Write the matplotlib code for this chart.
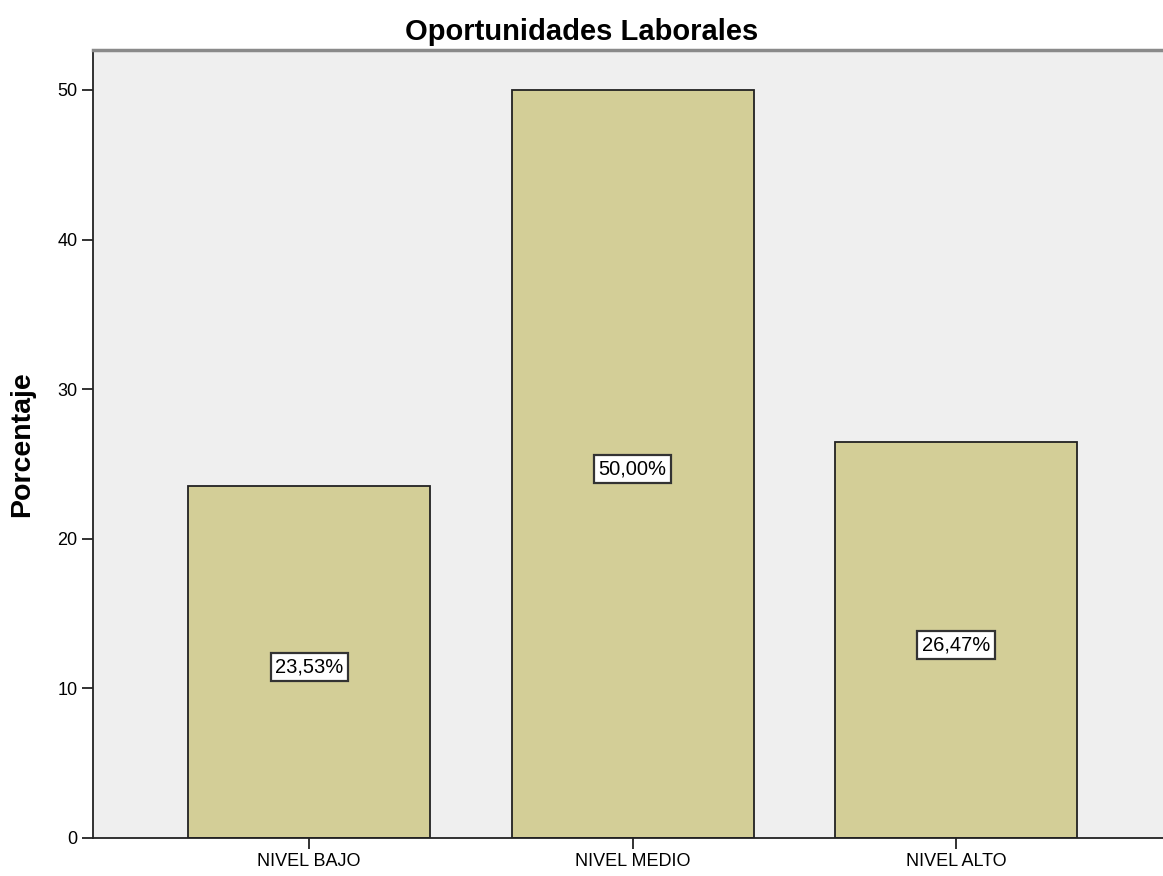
import matplotlib
matplotlib.use("Agg")
import matplotlib.pyplot as plt

categories = ["NIVEL BAJO", "NIVEL MEDIO", "NIVEL ALTO"]
values = [23.53, 50.00, 26.47]
labels = ["23,53%", "50,00%", "26,47%"]
yticks = [0, 10, 20, 30, 40, 50]

plt.rcParams['font.family'] = ['Liberation Sans', 'DejaVu Sans']

W, H = 1163, 876
fig = plt.figure(figsize=(W/100, H/100), dpi=100)
left, right, bottom, top = 93, 1163, 838, 50
ax = fig.add_axes([left/W, (H-bottom)/H, (right-left)/W, (bottom-top)/H])
ax.set_facecolor("#EFEFEF")

x = list(range(len(categories)))
ax.bar(x, values, width=0.748, color="#D3CE97", edgecolor="#222222", linewidth=1.3, zorder=2)
for xi, v, lab in zip(x, values, labels):
    ax.annotate(lab, xy=(xi, v/2), xytext=(0, -3.5), textcoords="offset points",
                ha="center", va="center", fontsize=14.5, zorder=3,
                bbox=dict(boxstyle="square,pad=0.22", facecolor="white", edgecolor="#333333", linewidth=1.6))

ax.set_xlim(-0.668, 2.64)
ax.set_ylim(0, 52.67)
ax.set_xticks(x)
ax.set_xticklabels(categories, fontsize=13)
ax.set_yticks(yticks)
ax.set_yticklabels([str(t) for t in yticks], fontsize=13)
ax.tick_params(axis="both", direction="out", length=8, width=1.3, color="#222222", pad=3)

ax.spines["right"].set_visible(False)
ax.spines["top"].set_color("#8A8A8A")
ax.spines["top"].set_linewidth(2.5)
for s in ("left", "bottom"):
    ax.spines[s].set_color("#222222")
    ax.spines[s].set_linewidth(1.3)

ax.set_title("Oportunidades Laborales", fontsize=21, fontweight="bold", pad=7,
             x=(W/2 - left)/(right - left))
ax.set_ylabel("Porcentaje", fontsize=20.5, fontweight="bold", labelpad=16)

fig.savefig("out.png", dpi=100)
